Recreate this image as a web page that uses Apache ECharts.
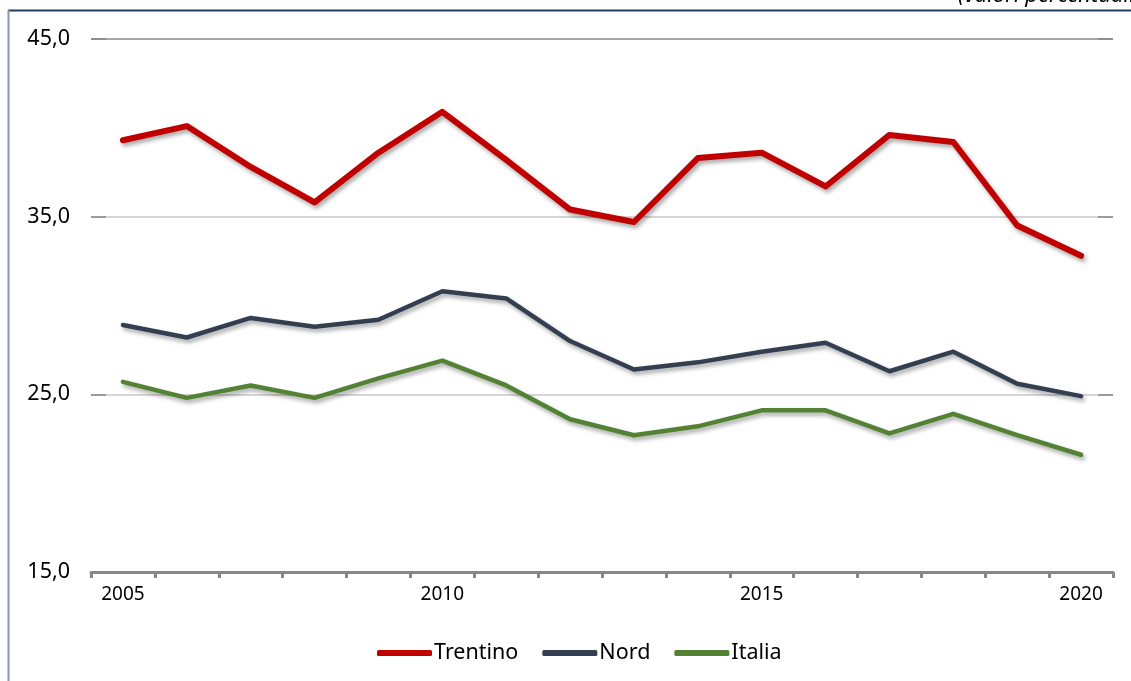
<!DOCTYPE html>
<html><head><meta charset="utf-8">
<script src="https://cdn.jsdelivr.net/npm/echarts@6/dist/echarts.min.js"></script>
<style>html,body{margin:0;padding:0;background:#fff}#c{width:1131px;height:681px}</style>
</head><body><div id="c"></div>
<script>
const years = ['2005','2006','2007','2008','2009','2010','2011','2012','2013','2014','2015','2016','2017','2018','2019','2020'];
const trentino = [39.3,40.1,37.8,35.8,38.6,40.9,38.2,35.4,34.7,38.3,38.6,36.7,39.6,39.2,34.5,32.8];
const nord = [28.9,28.2,29.3,28.8,29.2,30.8,30.4,28.0,26.4,26.8,27.4,27.9,26.3,27.4,25.6,24.9];
const italia = [25.7,24.8,25.5,24.8,25.9,26.9,25.5,23.6,22.7,23.2,24.1,24.1,22.8,23.9,22.7,21.6];
const yTicks = {min:15, max:45, interval:10};

const chart = echarts.init(document.getElementById('c'));
const font = "'Noto Sans', 'Open Sans', sans-serif";
const shadow = {shadowColor:'rgba(0,0,0,0.35)', shadowBlur:4, shadowOffsetX:2, shadowOffsetY:3};
function mk(name, data, color, width){
  return {name, type:'line', data, symbol:'none', yAxisIndex:0,
    lineStyle:Object.assign({color, width, cap:'round', join:'round'}, shadow),
    itemStyle:{color}};
}
chart.setOption({
  animation:false,
  textStyle:{fontFamily:font},
  grid:{left:91, right:18, top:39, bottom:109, containLabel:false},
  graphic:[
    {type:'line', shape:{x1:8,y1:10.5,x2:1131,y2:10.5}, style:{stroke:'#1f3864', lineWidth:2}},
    {type:'line', shape:{x1:8.5,y1:10,x2:8.5,y2:681}, style:{stroke:'#8497b0', lineWidth:2}},
    {type:'text', left:958, top:-15, style:{text:'(valori percentuali)', font:'italic 22px '+font, fill:'#000'}}
  ],
  legend:{
    data:['Trentino','Nord','Italia'], bottom:12, left:372,
    icon:'roundRect', itemWidth:55, itemHeight:6, itemGap:24,
    textStyle:{fontSize:21.5, color:'#000', fontFamily:font, padding:[0,0,0,-3]}
  },
  xAxis:{
    type:'category', data:years, boundaryGap:true,
    axisLine:{lineStyle:{color:'#888', width:3}},
    axisTick:{show:true, interval:0, length:6, lineStyle:{color:'#888', width:3}},
    axisLabel:{interval:4, fontSize:19, color:'#000', margin:13, fontFamily:font},
    splitLine:{show:false}
  },
  yAxis:[{
    type:'value', min:yTicks.min, max:yTicks.max, interval:yTicks.interval,
    axisLine:{show:false},
    axisTick:{show:true, inside:true, length:15, lineStyle:{color:'#888', width:1.5}},
    axisLabel:{fontSize:21.5, color:'#000', margin:21, fontFamily:font,
      formatter:v=>v.toFixed(1).replace('.',',')},
    splitLine:{show:true, lineStyle:{color:['#888','#c8c8c8','#c8c8c8','#888'], width:1.5}}
  },{
    type:'value', position:'right', min:yTicks.min, max:yTicks.max, interval:yTicks.interval,
    axisLine:{show:false},
    axisTick:{show:true, inside:true, length:15, lineStyle:{color:'#888', width:1.5}},
    axisLabel:{show:false}, splitLine:{show:false}
  }],
  series:[
    mk('Trentino', trentino, '#c00000', 6),
    mk('Nord', nord, '#333f50', 4.5),
    mk('Italia', italia, '#548235', 4.5)
  ]
});
</script></body></html>
